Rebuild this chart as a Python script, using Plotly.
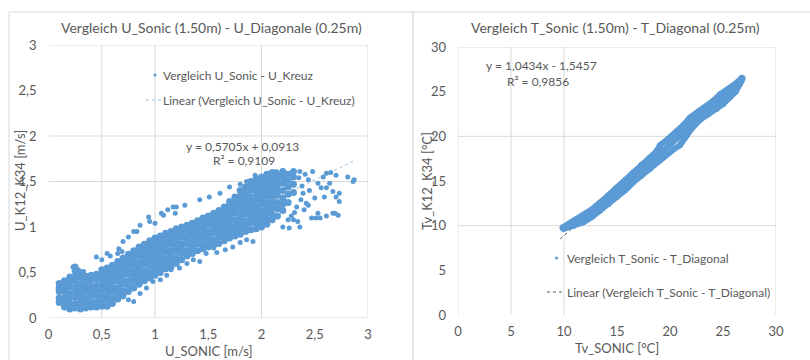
import plotly.graph_objects as go

W, H = 810, 360
BLUE = "#5B9BD5"
GRID = "#d9d9d9"
TXT = "#595959"
FONT = "Lato"

# ---------------- left chart data (U) ----------------
U_TITLE = "Vergleich U_Sonic (1.50m) - U_Diagonale (0.25m)"
U_XTITLE = "U_SONIC [m/s]"
U_YTITLE = "U_K12_K34 [m/s]"
U_SERIES = "Vergleich U_Sonic - U_Kreuz"
U_TREND_NAME = "Linear (Vergleich U_Sonic - U_Kreuz)"
U_SLOPE, U_ICPT = 0.5705, 0.0913
U_EQ = "y = 0,5705x + 0,0913"
U_R2 = "R² = 0,9109"
U_TICKS = [0, 0.5, 1, 1.5, 2, 2.5, 3]
U_TICK_TEXT = ["0", "0,5", "1", "1,5", "2", "2,5", "3"]
U_GRID_X = [0.5, 1, 2, 3]
U_GRID_Y = [0, 1.5, 2, 3]

# dense core of the cloud, one column of y values per x
U_CORE_X = [0.10, 0.15, 0.20, 0.25, 0.30, 0.35, 0.40, 0.45, 0.50, 0.55,
            0.60, 0.65, 0.70, 0.75, 0.80, 0.85, 0.90, 0.95, 1.00, 1.05,
            1.10, 1.15, 1.20, 1.25, 1.30, 1.35, 1.40, 1.45, 1.50, 1.55,
            1.60, 1.65, 1.70, 1.75, 1.80, 1.85, 1.90, 1.95, 2.00, 2.05,
            2.10, 2.15, 2.20, 2.25, 2.30]
U_CORE_Y = [
    [0.17, 0.22, 0.29, 0.33, 0.38],
    [0.12, 0.18, 0.23, 0.30, 0.35, 0.41],
    [0.10, 0.15, 0.22, 0.27, 0.34, 0.40, 0.45],
    [0.11, 0.16, 0.23, 0.28, 0.34, 0.41, 0.46, 0.52, 0.56],
    [0.10, 0.15, 0.21, 0.27, 0.33, 0.38, 0.45, 0.50],
    [0.11, 0.17, 0.22, 0.29, 0.35, 0.40, 0.46],
    [0.12, 0.17, 0.24, 0.29, 0.35, 0.42, 0.47],
    [0.12, 0.18, 0.25, 0.30, 0.36, 0.43, 0.48],
    [0.13, 0.18, 0.24, 0.31, 0.36, 0.42, 0.48, 0.53],
    [0.13, 0.20, 0.25, 0.31, 0.38, 0.43, 0.49, 0.55],
    [0.16, 0.22, 0.29, 0.34, 0.40, 0.47, 0.52, 0.58],
    [0.21, 0.27, 0.33, 0.40, 0.45, 0.51, 0.57, 0.62],
    [0.25, 0.30, 0.37, 0.42, 0.48, 0.55, 0.60, 0.66],
    [0.29, 0.35, 0.41, 0.48, 0.53, 0.59, 0.65, 0.70],
    [0.33, 0.40, 0.45, 0.51, 0.58, 0.63, 0.69, 0.74],
    [0.37, 0.43, 0.50, 0.55, 0.61, 0.68, 0.73, 0.78],
    [0.41, 0.46, 0.52, 0.59, 0.64, 0.70, 0.76, 0.81],
    [0.44, 0.50, 0.57, 0.62, 0.68, 0.75, 0.80, 0.85],
    [0.47, 0.53, 0.59, 0.66, 0.71, 0.77, 0.83, 0.88],
    [0.50, 0.57, 0.62, 0.68, 0.75, 0.80, 0.86, 0.90],
    [0.54, 0.59, 0.65, 0.72, 0.77, 0.83, 0.89, 0.93],
    [0.56, 0.63, 0.68, 0.74, 0.81, 0.86, 0.91, 0.95],
    [0.60, 0.66, 0.73, 0.78, 0.84, 0.90, 0.95, 0.98],
    [0.64, 0.71, 0.76, 0.82, 0.89, 0.94, 1.00],
    [0.68, 0.74, 0.81, 0.86, 0.92, 0.98, 1.02],
    [0.71, 0.77, 0.83, 0.90, 0.95, 1.00, 1.04],
    [0.74, 0.81, 0.86, 0.92, 0.99, 1.03, 1.07],
    [0.76, 0.82, 0.89, 0.94, 1.00, 1.06, 1.10],
    [0.78, 0.85, 0.90, 0.96, 1.03, 1.07, 1.12],
    [0.80, 0.86, 0.93, 0.98, 1.04, 1.10, 1.15],
    [0.82, 0.89, 0.94, 1.00, 1.07, 1.12, 1.18],
    [0.85, 0.91, 0.98, 1.03, 1.09, 1.16, 1.22],
    [0.88, 0.94, 1.00, 1.07, 1.12, 1.18, 1.24, 1.28],
    [0.90, 0.97, 1.02, 1.08, 1.15, 1.20, 1.26, 1.33],
    [0.92, 0.98, 1.05, 1.10, 1.16, 1.23, 1.28, 1.34, 1.40],
    [0.95, 1.01, 1.07, 1.14, 1.19, 1.25, 1.32, 1.37, 1.44],
    [0.97, 1.04, 1.09, 1.15, 1.22, 1.27, 1.33, 1.40, 1.45, 1.50],
    [0.98, 1.04, 1.11, 1.16, 1.22, 1.29, 1.34, 1.40, 1.47, 1.53],
    [1.00, 1.07, 1.12, 1.18, 1.25, 1.30, 1.36, 1.43, 1.48, 1.55],
    [1.03, 1.09, 1.16, 1.21, 1.27, 1.34, 1.39, 1.45, 1.52, 1.58],
    [1.08, 1.14, 1.21, 1.26, 1.32, 1.38, 1.44, 1.50, 1.56, 1.60],
    [1.12, 1.20, 1.27, 1.35, 1.40, 1.46, 1.53, 1.58],
    [1.18, 1.25, 1.32, 1.40, 1.48, 1.55, 1.61],
    [1.27, 1.36, 1.44, 1.51, 1.58],
    [1.38, 1.47, 1.55, 1.61],
]

# scattered points around the core
U_OUT_X = [0.55, 0.65, 0.45, 0.86, 0.94, 0.95, 1.08, 1.12, 1.20, 1.19,
           0.80, 0.75, 0.70, 0.28, 0.23, 0.33, 0.70, 0.75, 0.80, 0.86,
           0.92, 0.98, 1.05, 1.11, 1.15, 1.23, 1.36, 1.42, 1.48, 1.55,
           1.58, 1.66, 1.73, 1.80, 1.86, 1.92, 2.20, 2.30, 2.55, 2.67,
           2.72, 1.17, 1.28, 1.42, 1.51, 1.61, 1.70, 1.86, 1.80, 1.94,
           2.14, 2.36, 2.48, 2.61, 2.65, 2.70, 2.81, 2.86, 2.87, 2.53,
           2.64, 2.61, 2.67, 2.70, 2.73, 2.69, 2.53, 2.47, 2.61, 2.36,
           2.42, 2.50, 2.39, 2.56, 2.59, 0.66, 0.69, 0.83, 1.06, 2.51,
           2.26, 2.73, 0.50, 0.58, 1.00, 1.30, 2.35, 2.38, 2.41, 2.44,
           2.33, 2.40, 2.45, 2.28, 2.34, 2.25, 2.31, 2.44, 2.37, 2.58]
U_OUT_Y = [0.71, 0.71, 0.67, 1.02, 1.11, 1.06, 1.13, 1.19, 1.22, 1.15,
           0.95, 0.89, 0.84, 0.53, 0.56, 0.51, 0.23, 0.20, 0.18, 0.27,
           0.33, 0.40, 0.42, 0.47, 0.53, 0.55, 0.64, 0.62, 0.71, 0.77,
           0.72, 0.75, 0.78, 0.83, 0.86, 0.84, 1.00, 1.08, 1.10, 1.15,
           1.13, 1.22, 1.24, 1.30, 1.33, 1.37, 1.44, 1.50, 1.47, 1.57,
           1.61, 1.61, 1.61, 1.59, 1.60, 1.57, 1.55, 1.50, 1.52, 1.48,
           1.48, 1.43, 1.39, 1.33, 1.28, 1.15, 1.15, 1.10, 1.12, 1.00,
           1.26, 1.32, 1.37, 1.43, 1.33, 0.76, 0.73, 0.95, 1.15, 1.10,
           0.99, 1.37, 0.64, 0.68, 1.04, 0.60, 1.54, 1.45, 1.58, 1.52,
           1.22, 1.19, 1.40, 1.12, 1.06, 1.08, 1.16, 1.24, 1.30, 1.55]

# ---------------- right chart data (T) ----------------
T_TITLE = "Vergleich T_Sonic (1.50m) - T_Diagonal (0.25m)"
T_XTITLE = "Tv_SONIC [°C]"
T_YTITLE = "Tv_K12_K34 [°C]"
T_SERIES = "Vergleich T_Sonic - T_Diagonal"
T_TREND_NAME = "Linear (Vergleich T_Sonic - T_Diagonal)"
T_SLOPE, T_ICPT = 1.0434, -1.5457
T_EQ = "y = 1,0434x - 1,5457"
T_R2 = "R² = 0,9856"
T_TICKS = [0, 5, 10, 15, 20, 25, 30]
T_TICK_TEXT = ["0", "5", "10", "15", "20", "25", "30"]
T_GRID_X = [0, 5, 10, 30]
T_GRID_Y = [10, 20, 30]

# three traced strands of the dense temperature band (upper / middle / lower)
T_A_X = [9.85, 10.8, 11.82, 12.6, 13.40, 14.2, 14.97, 15.8, 16.54, 17.3,
         18.11, 18.7, 19.06, 19.8, 20.63, 21.3, 21.89, 22.7, 23.46, 24.1,
         24.72, 25.4, 25.97, 26.4, 26.76]
T_A_Y = [9.80, 10.45, 11.08, 11.8, 12.58, 13.4, 14.26, 15.1, 15.94, 16.8,
         17.62, 18.3, 19.0, 19.7, 20.5, 21.3, 22.1, 22.8, 23.4, 24.0,
         24.7, 25.2, 25.65, 26.1, 26.55]
T_B_X = [9.9, 10.85, 11.82, 12.6, 13.40, 14.2, 14.97, 15.8, 16.54, 17.3,
         18.11, 18.8, 19.4, 20.0, 20.63, 21.3, 21.89, 22.7, 23.46, 24.1,
         24.72, 25.3, 25.8, 26.3, 26.75]
T_B_Y = [9.72, 10.2, 10.73, 11.38, 12.13, 12.9, 13.72, 14.55, 15.4, 16.2,
         17.0, 17.7, 18.4, 19.05, 19.7, 20.45, 21.25, 22.05, 22.8, 23.45,
         24.05, 24.6, 25.1, 25.6, 26.2]
T_C_X = [9.94, 10.9, 11.82, 12.6, 13.40, 14.2, 14.97, 15.8, 16.54, 17.3,
         18.11, 18.9, 19.69, 20.4, 20.94, 21.4, 22.0, 22.83, 23.6, 24.40,
         25.0, 25.66, 26.2, 26.6, 26.85]
T_C_Y = [9.63, 9.95, 10.38, 10.95, 11.68, 12.4, 13.18, 14.0, 14.86, 15.6,
         16.35, 17.2, 18.03, 18.6, 19.0, 19.85, 20.8, 21.85, 22.45, 23.07,
         23.6, 24.38, 25.0, 25.87, 26.5]

# ---------------- build ----------------
def px(x):
    return x / W

def py(y):
    return 1 - y / H

fig = go.Figure()

core_x = [x for x, ys in zip(U_CORE_X, U_CORE_Y) for _ in ys]
core_y = [y for ys in U_CORE_Y for y in ys]

# trendlines (drawn first, behind points)
u_all_x = core_x + U_OUT_X
ux0, ux1 = min(u_all_x), max(u_all_x)
fig.add_trace(go.Scatter(x=[ux0, ux1], y=[U_SLOPE * ux0 + U_ICPT, U_SLOPE * ux1 + U_ICPT],
                         mode="lines", line=dict(color="#9dc3e6", width=1, dash="dot"),
                         xaxis="x", yaxis="y", showlegend=False, hoverinfo="skip"))

fig.add_trace(go.Scatter(x=core_x, y=core_y, mode="markers",
                         marker=dict(color=BLUE, size=7, line=dict(width=0)),
                         xaxis="x", yaxis="y", showlegend=False))
fig.add_trace(go.Scatter(x=U_OUT_X, y=U_OUT_Y, mode="markers",
                         marker=dict(color=BLUE, size=5, line=dict(width=0)),
                         xaxis="x", yaxis="y", showlegend=False))

t_all_x = T_A_X + T_B_X + T_C_X
tx0, tx1 = min(t_all_x), max(t_all_x)
fig.add_trace(go.Scatter(x=[tx0 - 0.2, tx1], y=[T_SLOPE * (tx0 - 0.2) + T_ICPT, T_SLOPE * tx1 + T_ICPT],
                         mode="lines", line=dict(color="#595959", width=1, dash="dot"),
                         xaxis="x2", yaxis="y2", showlegend=False, hoverinfo="skip"))
for sx, sy in [(T_A_X, T_A_Y), (T_B_X, T_B_Y), (T_C_X, T_C_Y)]:
    fig.add_trace(go.Scatter(x=sx, y=sy, mode="lines+markers",
                             line=dict(color=BLUE, width=6),
                             marker=dict(color=BLUE, size=6),
                             xaxis="x2", yaxis="y2", showlegend=False))

axis_common = dict(showgrid=False, zeroline=False, showline=False, ticks="",
                   automargin=False,
                   tickfont=dict(family=FONT, size=13, color=TXT), fixedrange=True)

fig.update_layout(
    template="none",
    width=W, height=H, margin=dict(l=0, r=0, t=0, b=0, pad=0),
    paper_bgcolor="white", plot_bgcolor="white", showlegend=False,
    font=dict(family=FONT, color=TXT),
    xaxis=dict(domain=[px(48.5), px(368)], range=[0, 3], tickmode="array",
               tickvals=U_TICKS, ticktext=U_TICK_TEXT, anchor="y",
               ticklabelstandoff=7, **axis_common),
    yaxis=dict(domain=[py(318), py(45)], range=[0, 3], tickmode="array",
               tickvals=U_TICKS, ticktext=U_TICK_TEXT, anchor="x",
               ticklabelstandoff=11, **axis_common),
    xaxis2=dict(domain=[px(458), px(776)], range=[0, 30], tickmode="array",
                tickvals=T_TICKS, ticktext=T_TICK_TEXT, anchor="y2",
                ticklabelstandoff=7, **axis_common),
    yaxis2=dict(domain=[py(315), py(47)], range=[0, 30], tickmode="array",
                tickvals=T_TICKS, ticktext=T_TICK_TEXT, anchor="x2",
                ticklabelstandoff=11, **axis_common),
)

shapes = []
# chart area borders
shapes.append(dict(type="line", xref="paper", yref="paper", x0=px(9), x1=1.01, y0=py(12), y1=py(12),
                   line=dict(color=GRID, width=1)))
shapes.append(dict(type="line", xref="paper", yref="paper", x0=px(9), x1=px(9), y0=py(12), y1=-0.01,
                   line=dict(color=GRID, width=1)))
shapes.append(dict(type="line", xref="paper", yref="paper", x0=px(413), x1=px(413), y0=py(12), y1=-0.01,
                   line=dict(color=GRID, width=1.5)))
# gridlines
for gx in U_GRID_X:
    shapes.append(dict(type="line", xref="x", yref="y", x0=gx, x1=gx, y0=0, y1=3, layer="below",
                       line=dict(color=GRID, width=1)))
for gy in U_GRID_Y:
    shapes.append(dict(type="line", xref="x", yref="y", x0=0, x1=3, y0=gy, y1=gy, layer="below",
                       line=dict(color=GRID, width=1)))
for gx in T_GRID_X:
    shapes.append(dict(type="line", xref="x2", yref="y2", x0=gx, x1=gx, y0=0, y1=30, layer="below",
                       line=dict(color=GRID, width=1)))
for gy in T_GRID_Y:
    shapes.append(dict(type="line", xref="x2", yref="y2", x0=0, x1=30, y0=gy, y1=gy, layer="below",
                       line=dict(color=GRID, width=1)))
# legend symbols
shapes.append(dict(type="circle", xref="paper", yref="paper", x0=px(153.5), x1=px(156.5),
                   y0=py(76.5), y1=py(73.5), fillcolor=BLUE, line=dict(width=0)))
shapes.append(dict(type="line", xref="paper", yref="paper", x0=px(146), x1=px(162), y0=py(100), y1=py(100),
                   line=dict(color="#9dc3e6", width=1, dash="dot")))
shapes.append(dict(type="circle", xref="paper", yref="paper", x0=px(555), x1=px(558),
                   y0=py(259.5), y1=py(256.5), fillcolor=BLUE, line=dict(width=0)))
shapes.append(dict(type="line", xref="paper", yref="paper", x0=px(547), x1=px(564), y0=py(292), y1=py(292),
                   line=dict(color="#595959", width=1, dash="dot")))
fig.update_layout(shapes=shapes)

def ann(text, x, y, size, xanchor="center", angle=0):
    return dict(text=text, x=px(x), y=py(y), xref="paper", yref="paper", showarrow=False,
                xanchor=xanchor, yanchor="middle", textangle=angle, borderpad=0,
                font=dict(family=FONT, size=size, color=TXT))

anns = [
    ann(U_TITLE, 211, 28, 14),
    ann(T_TITLE, 615, 28, 14),
    ann(U_XTITLE, 209, 351, 13),
    ann(T_XTITLE, 617, 348, 13),
    ann(U_YTITLE, 20, 181, 13, angle=-90),
    ann(T_YTITLE, 427, 181, 13, angle=-90),
    ann(U_SERIES, 162, 75, 12, xanchor="left"),
    ann(U_TREND_NAME, 162, 100, 12, xanchor="left"),
    ann(T_SERIES, 566, 258, 12, xanchor="left"),
    ann(T_TREND_NAME, 566, 292, 12, xanchor="left"),
    ann(U_EQ, 242, 146, 12),
    ann(U_R2, 244, 160, 12),
    ann(T_EQ, 541, 65, 12),
    ann(T_R2, 538, 82, 12),
]
fig.update_layout(annotations=anns)

fig.write_html("out.html", config={"displayModeBar": False, "staticPlot": True},
               post_script="document.body.style.margin='0px';document.body.style.overflow='hidden';")
